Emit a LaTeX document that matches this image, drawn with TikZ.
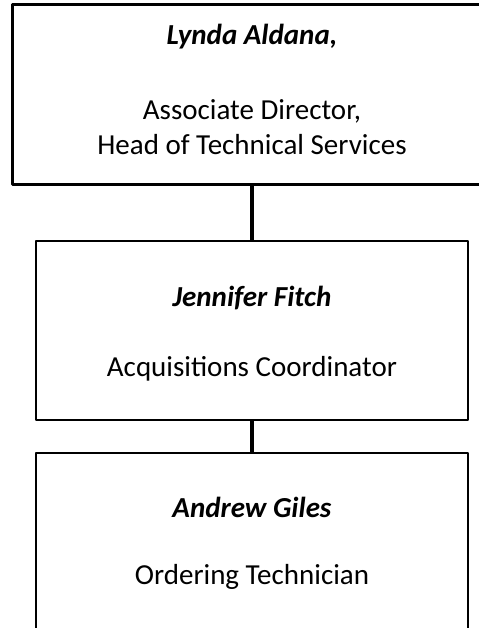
\documentclass[tikz,border=0pt]{standalone}
\usepackage{fontspec}
\setmainfont{Carlito}
\begin{document}
\begin{tikzpicture}[line join=bevel,x=1bp,y=1bp,
  staffbox/.style={draw=black,line width=2bp,minimum width=432bp,minimum height=179bp,inner sep=0pt,align=center,font=\fontsize{29bp}{35bp}\selectfont},
  headbox/.style={staffbox,line width=3bp,minimum width=480bp,minimum height=180bp,text depth=12bp},
  orgline/.style={draw=black,line width=4bp}]
  \useasboundingbox (0bp,0bp) rectangle (479bp,628bp);
%%
  % Node: head
  \node[headbox] (head) at (252bp,533bp) {\textbf{\textit{Lynda Aldana,}}\\[40bp]Associate Director,\\Head of Technical Services};
  % Node: coord
  \node[staffbox,text depth=0bp] (coord) at (252bp,297bp) {\textbf{\textit{Jennifer Fitch}}\\[35bp]Acquisitions Coordinator};
  % Node: tech
  \node[staffbox] (tech) at (252bp,85bp) {\textbf{\textit{Andrew Giles}}\\[32bp]Ordering Technician};
  % Edge: head -> coord
  \draw[orgline] (head.south) -- (coord.north);
  % Edge: coord -> tech
  \draw[orgline] (coord.south) -- (tech.north);
%
\end{tikzpicture}
\end{document}
